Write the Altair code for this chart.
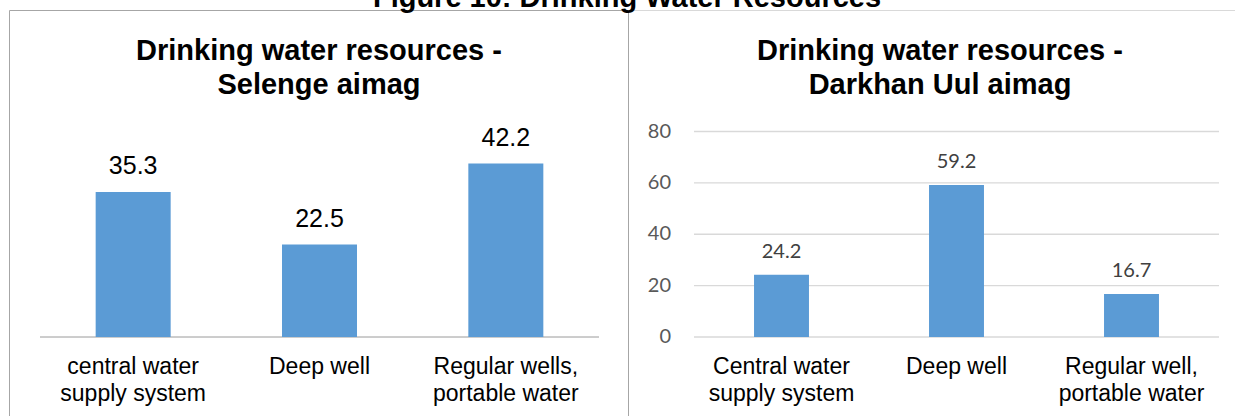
import altair as alt
import pandas as pd

# ---- text and values -------------------------------------------------------
figure_title = "Figure 10: Drinking Water Resources"
left_title = ["Drinking water resources -", "Selenge aimag"]
right_title = ["Drinking water resources -", "Darkhan Uul aimag"]

left_categories = ["central water supply system", "Deep well", "Regular wells, portable water"]
left_labels = ["central water\nsupply system", "Deep well", "Regular wells,\nportable water"]
left_values = [35.3, 22.5, 42.2]

right_categories = ["Central water supply system", "Deep well", "Regular well, portable water"]
right_labels = ["Central water\nsupply system", "Deep well", "Regular well,\nportable water"]
right_values = [24.2, 59.2, 16.7]

right_ticks = [0, 20, 40, 60, 80]

# ---- page layout (pixels) --------------------------------------------------
W, H = 1235, 416
PLOT_TOP, PLOT_BOTTOM = 131.5, 337
LEFT_X = [40, 599]
RIGHT_X = [694, 1219]
LABEL_Y = 374
TITLE_Y = 60

ARIAL = "Liberation Sans, Arial, sans-serif"
CALIBRI = "Lato, Calibri, sans-serif"
BAR_COLOR = "#5B9BD5"

left_df = pd.DataFrame({"category": left_categories, "label": left_labels, "value": left_values})
right_df = pd.DataFrame({"category": right_categories, "label": right_labels, "value": right_values})
ticks_df = pd.DataFrame({"tick": right_ticks})
one_row = pd.DataFrame({"t": [""]})

left_x = alt.Scale(type="band", domain=left_categories, range=LEFT_X,
                   paddingInner=0.5975, paddingOuter=0.29875)
left_y = alt.Scale(domain=[0, 50], range=[PLOT_BOTTOM, PLOT_TOP], nice=False)
right_x = alt.Scale(type="band", domain=right_categories, range=RIGHT_X,
                    paddingInner=0.686, paddingOuter=0.343)
right_y = alt.Scale(domain=[0, 80], range=[PLOT_BOTTOM, PLOT_TOP], nice=False)


def title_layer(lines, x, y, size, line_height=34):
    df = pd.DataFrame({"t": ["\n".join(lines)]})
    return alt.Chart(df).mark_text(
        font=ARIAL, fontSize=size, fontWeight="bold", color="#000000",
        align="center", baseline="alphabetic", lineBreak="\n", lineHeight=line_height,
    ).encode(x=alt.value(x), y=alt.value(y), text="t:N")


# ---- frames ----------------------------------------------------------------
left_frame = alt.Chart(one_row).mark_rect(
    fillOpacity=0, stroke="#a6a6a6", strokeWidth=1
).encode(x=alt.value(9.5), x2=alt.value(628.5), y=alt.value(10.5), y2=alt.value(H + 20))

right_frame = alt.Chart(one_row).mark_rule(color="#d9d9d9", strokeWidth=1).encode(
    x=alt.value(629), x2=alt.value(W + 5), y=alt.value(10.5)
)

# ---- left panel: Selenge ---------------------------------------------------
left_baseline = alt.Chart(one_row).mark_rule(color="#9a9a9a", strokeWidth=1).encode(
    x=alt.value(LEFT_X[0]), x2=alt.value(LEFT_X[1]), y=alt.value(PLOT_BOTTOM)
)

left_bars = alt.Chart(left_df).mark_bar(color=BAR_COLOR).encode(
    x=alt.X("category:N", scale=left_x, axis=None),
    y=alt.Y("value:Q", scale=left_y, axis=None),
)

left_values_text = alt.Chart(left_df).mark_text(
    font=ARIAL, fontSize=25, color="#000000", baseline="alphabetic", dy=-17.5
).encode(
    x=alt.X("category:N", scale=left_x, axis=None),
    y=alt.Y("value:Q", scale=left_y, axis=None),
    text=alt.Text("value:Q", format=".1f"),
)

left_cat_text = alt.Chart(left_df).mark_text(
    font=ARIAL, fontSize=23, color="#000000", baseline="alphabetic",
    lineBreak="\n", lineHeight=27,
).encode(
    x=alt.X("category:N", scale=left_x, axis=None),
    y=alt.value(LABEL_Y),
    text="label:N",
)

# ---- right panel: Darkhan Uul ----------------------------------------------
right_grid = alt.Chart(ticks_df).mark_rule(color="#d9d9d9", strokeWidth=1.3).encode(
    x=alt.value(RIGHT_X[0]), x2=alt.value(RIGHT_X[1]),
    y=alt.Y("tick:Q", scale=right_y, axis=None),
)

right_tick_text = alt.Chart(ticks_df).mark_text(
    font=CALIBRI, fontSize=20, color="#595959", align="right", baseline="middle"
).encode(
    x=alt.value(RIGHT_X[0] - 23),
    y=alt.Y("tick:Q", scale=right_y, axis=None),
    text="tick:Q",
)

right_bars = alt.Chart(right_df).mark_bar(color=BAR_COLOR).encode(
    x=alt.X("category:N", scale=right_x, axis=None),
    y=alt.Y("value:Q", scale=right_y, axis=None),
)

right_values_text = alt.Chart(right_df).mark_text(
    font=CALIBRI, fontSize=20, color="#404040", baseline="alphabetic", dy=-17
).encode(
    x=alt.X("category:N", scale=right_x, axis=None),
    y=alt.Y("value:Q", scale=right_y, axis=None),
    text=alt.Text("value:Q", format=".1f"),
)

right_cat_text = alt.Chart(right_df).mark_text(
    font=ARIAL, fontSize=23, color="#000000", baseline="alphabetic",
    lineBreak="\n", lineHeight=27,
).encode(
    x=alt.X("category:N", scale=right_x, axis=None),
    y=alt.value(LABEL_Y),
    text="label:N",
)

chart = alt.layer(
    left_frame,
    right_frame,
    title_layer([figure_title], 627, 7, 29),
    title_layer(left_title, 319, TITLE_Y, 29),
    title_layer(right_title, 940, TITLE_Y, 29),
    left_baseline,
    left_bars,
    left_values_text,
    left_cat_text,
    right_grid,
    right_tick_text,
    right_bars,
    right_values_text,
    right_cat_text,
).resolve_scale(
    x="independent", y="independent"
).properties(
    width=W, height=H, padding=0,
    autosize=alt.AutoSizeParams(type="none"),
).configure_view(strokeWidth=0)

chart.save("out.html", embed_options={"renderer": "svg", "actions": False})
